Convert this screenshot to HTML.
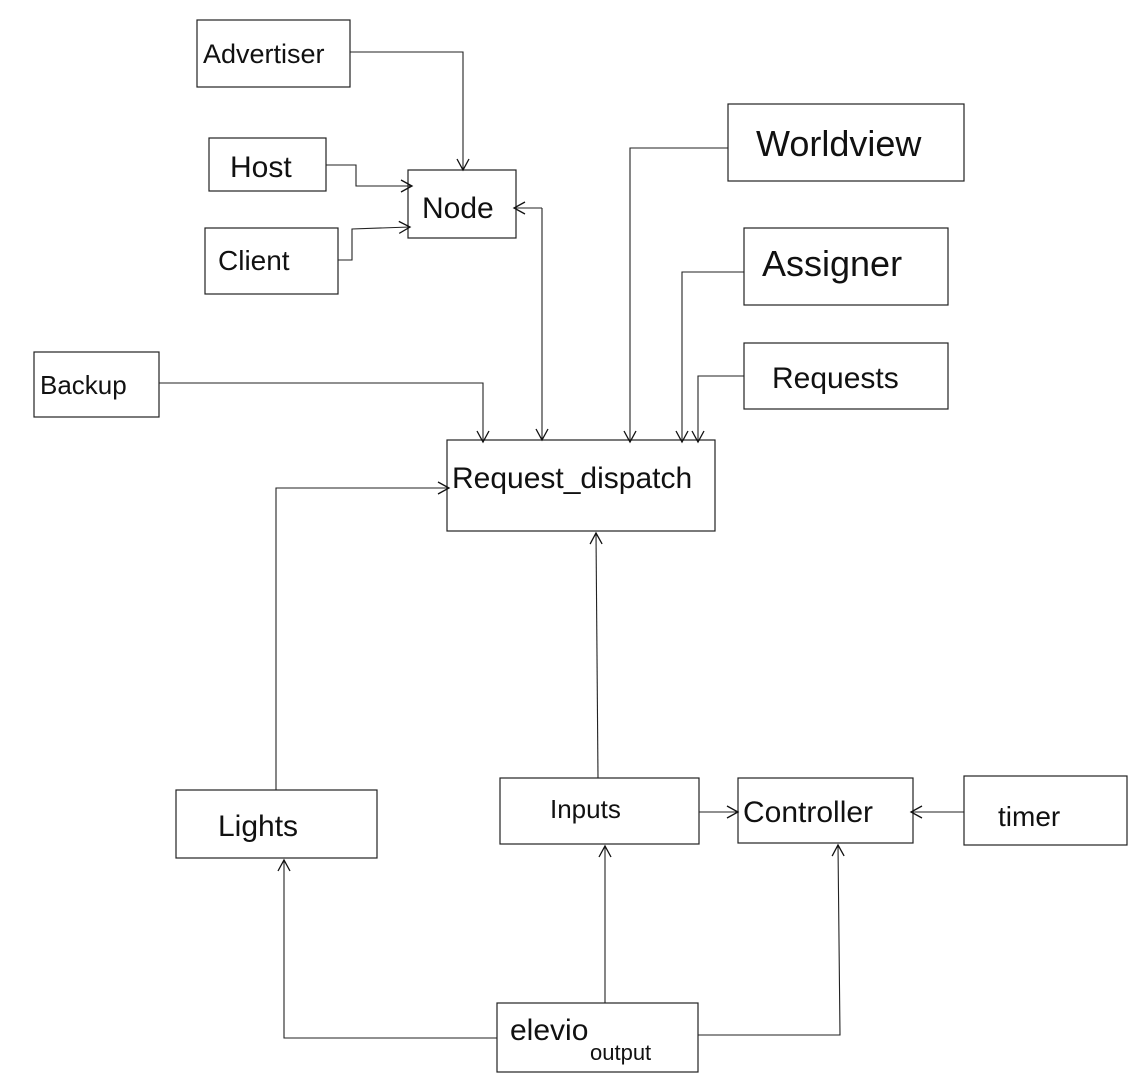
<!DOCTYPE html>
<html><head><meta charset="utf-8"><style>
html,body{margin:0;padding:0;background:#fff;}
svg{display:block;}
text{font-family:"Liberation Sans",sans-serif;fill:#111;}
</style></head><body>
<svg width="1134" height="1082" viewBox="0 0 1134 1082" xmlns="http://www.w3.org/2000/svg">
<defs>
<marker id="a" markerWidth="14" markerHeight="14" refX="12" refY="7" orient="auto" markerUnits="userSpaceOnUse">
<path d="M1,1 L12,7 L1,13" fill="none" stroke="#111" stroke-width="1.3"/>
</marker>
</defs>
<g fill="none" stroke="#222" stroke-width="1.2">
<rect x="197" y="20" width="153" height="67"/>
<rect x="209" y="138" width="117" height="53"/>
<rect x="408" y="170" width="108" height="68"/>
<rect x="205" y="228" width="133" height="66"/>
<rect x="728" y="104" width="236" height="77"/>
<rect x="744" y="228" width="204" height="77"/>
<rect x="744" y="343" width="204" height="66"/>
<rect x="34" y="352" width="125" height="65"/>
<rect x="447" y="440" width="268" height="91"/>
<rect x="176" y="790" width="201" height="68"/>
<rect x="500" y="778" width="199" height="66"/>
<rect x="738" y="778" width="175" height="65"/>
<rect x="964" y="776" width="163" height="69"/>
<rect x="497" y="1003" width="201" height="69"/>
</g>
<g fill="none" stroke="#222" stroke-width="1.1">
<polyline points="350,52 463,52 463,170" marker-end="url(#a)"/>
<polyline points="326,165 356,165 356,186 412,186" marker-end="url(#a)"/>
<polyline points="338,260 352,260 352,229 410,227" marker-end="url(#a)"/>
<polyline points="542,208 542,440" marker-end="url(#a)"/>
<polyline points="542,208 514,208" marker-end="url(#a)"/>
<polyline points="159,383 483,383 483,442" marker-end="url(#a)"/>
<polyline points="728,148 630,148 630,442" marker-end="url(#a)"/>
<polyline points="744,272 682,272 682,442" marker-end="url(#a)"/>
<polyline points="744,376 698,376 698,442" marker-end="url(#a)"/>
<polyline points="276,790 276,488 449,488" marker-end="url(#a)"/>
<polyline points="598,778 596,533" marker-end="url(#a)"/>
<polyline points="699,812 738,812" marker-end="url(#a)"/>
<polyline points="964,812 911,812" marker-end="url(#a)"/>
<polyline points="497,1038 284,1038 284,860" marker-end="url(#a)"/>
<polyline points="605,1003 605,846" marker-end="url(#a)"/>
<polyline points="698,1035 840,1035 838,845" marker-end="url(#a)"/>
</g>
<text x="203" y="63" font-size="27">Advertiser</text>
<text x="230" y="177" font-size="30">Host</text>
<text x="422" y="218" font-size="30">Node</text>
<text x="218" y="270" font-size="28">Client</text>
<text x="756" y="156" font-size="36">Worldview</text>
<text x="762" y="276" font-size="36">Assigner</text>
<text x="772" y="388" font-size="30">Requests</text>
<text x="40" y="394" font-size="26">Backup</text>
<text x="452" y="488" font-size="30">Request_dispatch</text>
<text x="218" y="836" font-size="30">Lights</text>
<text x="550" y="818" font-size="26">Inputs</text>
<text x="743" y="822" font-size="30">Controller</text>
<text x="998" y="826" font-size="28">timer</text>
<text x="510" y="1040" font-size="30">elevio</text>
<text x="590" y="1060" font-size="22">output</text>
</svg>
</body></html>
